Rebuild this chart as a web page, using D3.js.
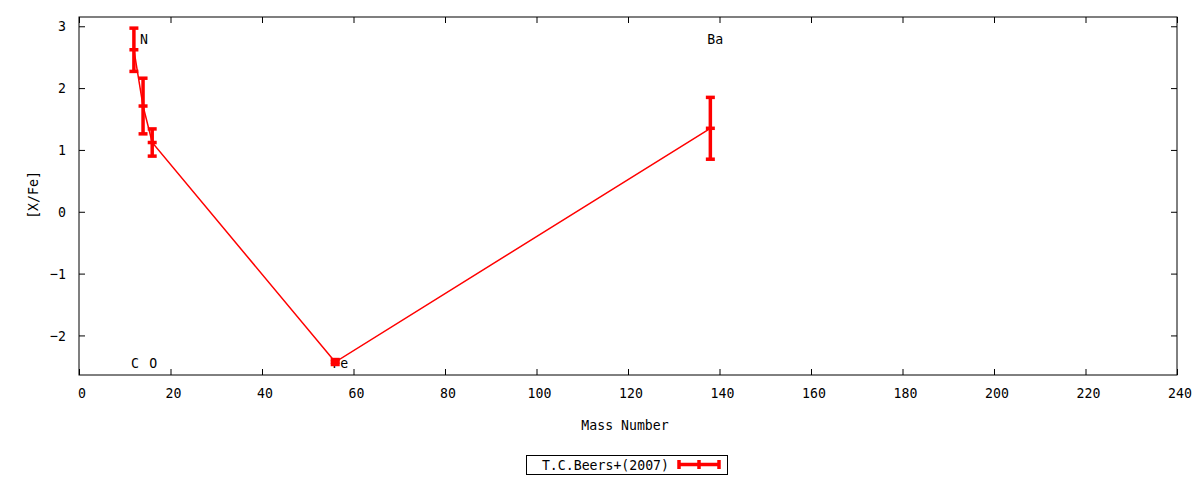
<!DOCTYPE html>
<html><head><meta charset="utf-8">
<script src="https://cdn.jsdelivr.net/npm/d3@7"></script>
<style>
body{margin:0;background:#fff;}
text{font-family:"DejaVu Sans Mono",monospace;font-size:14.5px;fill:#000;}
</style></head>
<body><svg id="c" width="1200" height="480"></svg>
<script>
const elements = ["C","N","O","Fe","Ba"];
const massNumbers = [12,14,16,56,138];
const xfeValues = [2.62,1.71,1.12,-2.43,1.35];
const xfeErrors = [0.35,0.45,0.22,0.04,0.5];
const labelY = [-2.45,2.8,-2.45,-2.45,2.8];
const xTicks = [0,20,40,60,80,100,120,140,160,180,200,220,240];
const yTicks = [-2,-1,0,1,2,3];
const seriesName = "T.C.Beers+(2007)";

const SX = 0.91; // horizontal squeeze for narrow mono look
const svg = d3.select("#c");
const L=79,R=1177,T=17,B=375;
const x = d3.scaleLinear().domain([0,240]).range([L,R]);
const y = d3.scaleLinear().domain([-2.64,3.15]).range([B,T]);
const red="#ff0000";

function label(px,py,str,anchor,rot){
  const g = svg.append("g").attr("transform",`translate(${px},${py})${rot?` rotate(${rot})`:""} scale(${SX},1)`);
  return g.append("text").attr("text-anchor",anchor||"start").text(str);
}

// frame
svg.append("rect").attr("x",L).attr("y",T).attr("width",R-L).attr("height",B-T)
  .attr("fill","none").attr("stroke","#000").attr("stroke-width",1);

// axes
const xb = svg.append("g").attr("transform",`translate(0,${B})`)
  .call(d3.axisBottom(x).tickValues(xTicks).tickFormat(d3.format("d")).tickSizeInner(-6).tickSizeOuter(0).tickPadding(13));
const xt = svg.append("g").attr("transform",`translate(0,${T})`)
  .call(d3.axisTop(x).tickValues(xTicks).tickFormat("").tickSizeInner(-6).tickSizeOuter(0));
const yl = svg.append("g").attr("transform",`translate(${L},0)`)
  .call(d3.axisLeft(y).tickValues(yTicks).tickFormat(d3.format("d")).tickSizeInner(-6).tickSizeOuter(0).tickPadding(13));
const yr = svg.append("g").attr("transform",`translate(${R},0)`)
  .call(d3.axisRight(y).tickValues(yTicks).tickFormat("").tickSizeInner(-6).tickSizeOuter(0));
[xb,xt,yl,yr].forEach(g=>{
  g.select(".domain").remove();
  g.selectAll("text").attr("font-family","DejaVu Sans Mono").attr("font-size",14.5).attr("fill","#000");
});
xb.selectAll("text").attr("dy","0.71em").attr("x",2.5/SX).attr("transform",`scale(${SX},1)`);
yl.selectAll("text").attr("x",-13/SX).attr("transform",`scale(${SX},1)`);

// axis titles
label((L+R)/2-3,430,"Mass Number","middle");
label(38,195,"[X/Fe]","middle",-90);

// data
const data = elements.map((e,i)=>({el:e,m:massNumbers[i],v:xfeValues[i],err:xfeErrors[i],ly:labelY[i]}));

// element labels
data.forEach(d=>{ label(x(d.m)-3,y(d.ly)+5,d.el,"start"); });

// connecting line
svg.append("path").datum(data)
  .attr("d",d3.line().x(d=>x(d.m)).y(d=>y(d.v)))
  .attr("fill","none").attr("stroke",red).attr("stroke-width",1.5);

// error bars
const cap=4.5;
const eb = svg.selectAll("g.eb").data(data).enter().append("g").attr("class","eb")
  .attr("stroke",red).attr("stroke-width",3.5);
eb.append("line").attr("x1",d=>x(d.m)).attr("x2",d=>x(d.m)).attr("y1",d=>y(d.v+d.err)).attr("y2",d=>y(d.v-d.err));
eb.append("line").attr("x1",d=>x(d.m)-cap).attr("x2",d=>x(d.m)+cap).attr("y1",d=>y(d.v+d.err)).attr("y2",d=>y(d.v+d.err));
eb.append("line").attr("x1",d=>x(d.m)-cap).attr("x2",d=>x(d.m)+cap).attr("y1",d=>y(d.v-d.err)).attr("y2",d=>y(d.v-d.err));
eb.append("line").attr("x1",d=>x(d.m)-cap).attr("x2",d=>x(d.m)+cap).attr("y1",d=>y(d.v)).attr("y2",d=>y(d.v));

// legend
svg.append("rect").attr("x",526.5).attr("y",455.5).attr("width",201).attr("height",19)
  .attr("fill","none").attr("stroke","#000").attr("stroke-width",1);
label(669,470,seriesName,"end");
const lg = svg.append("g").attr("stroke",red).attr("stroke-width",3.5);
lg.append("line").attr("x1",678).attr("x2",720).attr("y1",464.5).attr("y2",464.5);
lg.append("line").attr("x1",679).attr("x2",679).attr("y1",460).attr("y2",469);
lg.append("line").attr("x1",719).attr("x2",719).attr("y1",460).attr("y2",469);
lg.append("line").attr("x1",699).attr("x2",699).attr("y1",460).attr("y2",469);
</script></body></html>
